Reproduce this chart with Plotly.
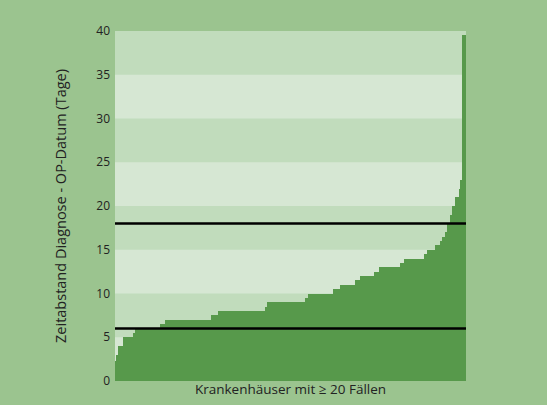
import plotly.graph_objects as go

# Step levels (days) and number of hospitals at each level
levels = [2.3, 3, 4, 5, 5.5, 6, 6.5, 7, 7.5, 8, 8.5, 9, 9.5, 10, 10.5, 11, 11.5, 12, 12.5,
          13, 13.5, 14, 14.5, 15, 15.5, 16, 16.5, 17, 18, 19, 20, 21, 22, 23, 39.5]
counts = [1, 1, 3, 6, 1, 15, 3, 28, 4, 28, 1, 23, 2, 15, 4, 9, 3, 8, 3,
          13, 2, 12, 2, 5, 3, 1, 2, 1, 2, 1, 2, 2, 1, 1, 2]

days = []
for lv, c in zip(levels, counts):
    days.extend([lv] * c)
hospitals = list(range(len(days)))

ref_lines = [6, 18]
y_ticks = [0, 5, 10, 15, 20, 25, 30, 35, 40]

BG = "#9bc48f"
BAND_DARK = "#c1dcbc"
BAND_LIGHT = "#d6e7d3"
BAR = "#57994b"

fig = go.Figure()
fig.add_trace(go.Bar(x=hospitals, y=days, marker=dict(color=BAR, line=dict(width=0)),
                     hoverinfo="y", showlegend=False))

shapes = []
for lo in [0, 10, 20, 30]:
    shapes.append(dict(type="rect", xref="paper", yref="y", x0=0, x1=1, y0=lo, y1=lo + 5,
                       fillcolor=BAND_LIGHT, line=dict(width=0), layer="below"))
for v in ref_lines:
    shapes.append(dict(type="line", xref="paper", yref="y", x0=0, x1=1, y0=v, y1=v,
                       line=dict(color="black", width=2.5), layer="above"))

fig.update_layout(
    width=547, height=405,
    margin=dict(l=115, r=81, t=31, b=24, autoexpand=False),
    paper_bgcolor=BG, plot_bgcolor=BAND_DARK,
    bargap=0,
    shapes=shapes,
    font=dict(family="Open Sans, sans-serif", size=12, color="#222222"),
    xaxis=dict(range=[-0.5, len(days) - 0.5], showticklabels=False, showgrid=False,
               zeroline=False, ticks="",
               title=dict(text="Krankenhäuser mit ≥ 20 Fällen", standoff=3,
                          font=dict(size=13.5, color="#222222"))),
    yaxis=dict(range=[0, 40], tickvals=y_ticks, showgrid=False, zeroline=False,
               ticks="", ticklabelstandoff=4,
               title=dict(text="Zeitabstand Diagnose - OP-Datum (Tage)", standoff=26,
                          font=dict(size=14.5, color="#222222"))),
)

fig.write_html(
    "out.html",
    config={"displayModeBar": False},
    post_script="document.body.style.margin='0';document.body.style.background='%s';" % BG,
)
